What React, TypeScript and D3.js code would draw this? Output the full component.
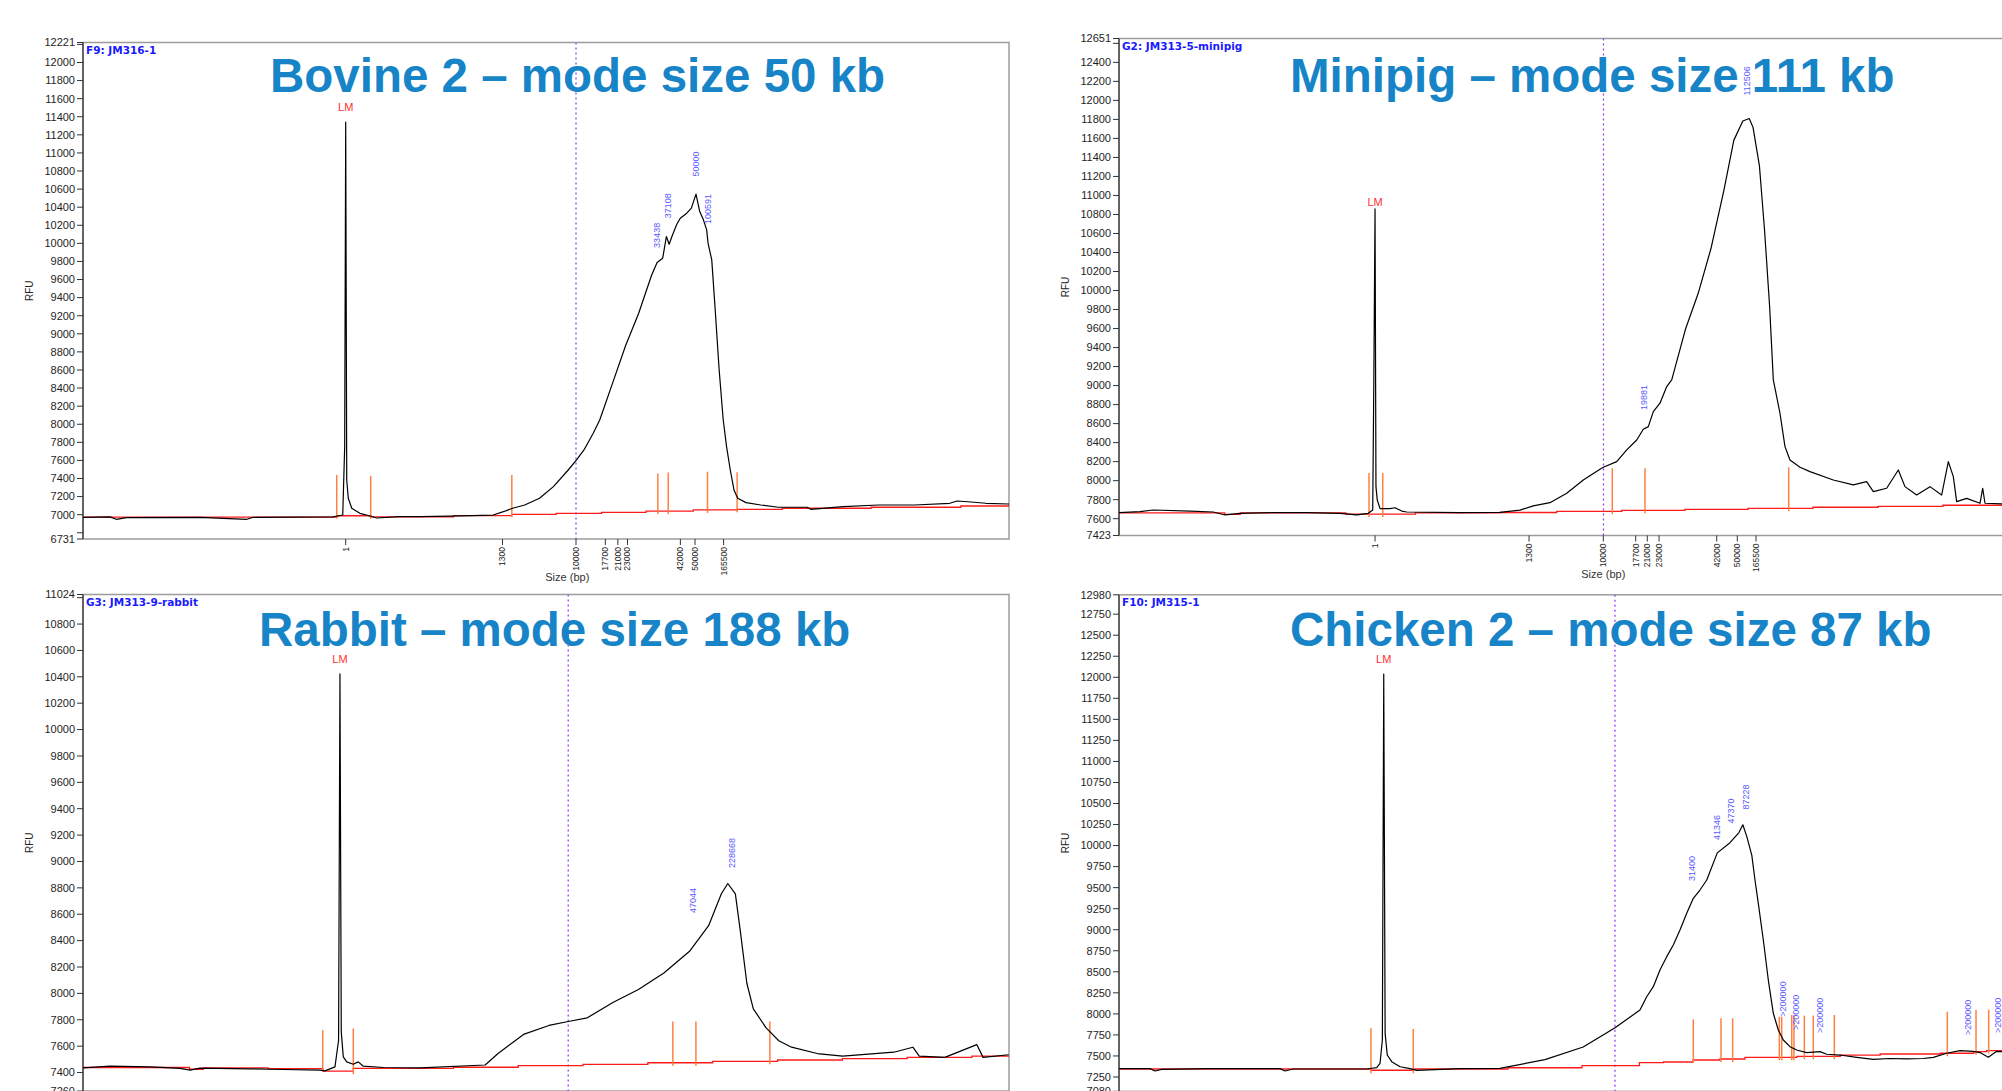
import React from "react";
import * as d3 from "d3";

type Pt = [number, number];
type Lbl = [number, number, string];
type Tick = [number, string];

// x values are scan positions (0..1000 across each plot), y values are RFU

// ---- Bovine 2 (F9: JM316-1)
const bovineTrace: Pt[] = [
  [0, 6971], [29, 6975], [36, 6949], [47, 6967], [126, 6971], [177, 6949], [184, 6971], [270, 6975],
  [280.5, 6996], [282.6, 7752], [283.7, 11340], [284.8, 7384], [286.5, 7181], [290.2, 7071], [299, 7015],
  [310, 6985], [317, 6963], [342, 6978], [364, 6978], [396, 6985], [443, 6996], [454, 7033], [464, 7071],
  [477, 7107], [493, 7181], [508, 7310], [524, 7494], [533, 7605], [541, 7716], [551, 7900], [558, 8047],
  [572, 8457], [586, 8870], [600, 9225], [614, 9647], [620, 9788], [626, 9836], [630, 10075], [633, 9990],
  [636, 10075], [641, 10205], [645, 10278], [652, 10334], [657, 10389], [662, 10544], [666, 10352],
  [670, 10260], [673.5, 10149], [675, 10002], [679, 9817], [682.5, 9300], [687, 8600], [691.4, 8047],
  [695, 7752], [699, 7494], [703, 7273], [707, 7181], [716, 7133], [732, 7107], [751, 7082], [782, 7082],
  [786, 7059], [821, 7088], [859, 7107], [898, 7107], [936, 7126], [944, 7151], [959, 7140], [975, 7126],
  [1000, 7118],
];
const bovineBaseline: Pt[] = [
  [0, 6972], [274, 6988], [311, 6975], [400, 6990], [463, 7004], [511, 7015], [560, 7026], [608, 7040],
  [659, 7052], [706, 7059], [755, 7071], [851, 7082], [948, 7096], [1000, 7110],
];
const bovineMarkers: Pt[] = [
  [274, 7440], [310.7, 7430], [463.1, 7440], [620.8, 7455], [632, 7465], [674.4, 7475], [706.4, 7470],
];
const bovinePeaks: Lbl[] = [
  [620.2, 9950, "33438"], [632, 10278, "37108"], [662, 10739, "50000"], [674.4, 10215, "100591"],
];
const bovineSizes: Tick[] = [
  [283.7, "1"], [453, "1300"], [532.4, "10000"], [564.1, "17700"], [577.6, "21000"], [588, "23000"],
  [645.1, "42000"], [660.9, "50000"], [691.8, "165500"],
];

// ---- Minipig (G2: JM313-5-minipig)
const minipigTrace: Pt[] = [
  [0, 7663], [22.7, 7674], [37, 7691], [76.7, 7680], [101.8, 7670], [114.5, 7639], [130.7, 7656],
  [166.6, 7663], [202.7, 7663], [238.7, 7656], [256.7, 7639], [269.2, 7656], [274, 7691], [275.2, 9060],
  [276.5, 10860], [277.5, 7937], [278.9, 7797], [281.9, 7705], [292.6, 7705], [298.1, 7715], [305.3, 7680],
  [310.7, 7670], [368.3, 7663], [411.4, 7667], [433, 7690], [447.4, 7734], [465.4, 7768], [483.5, 7867],
  [501.4, 8007], [519.4, 8120], [523, 8141], [537.5, 8200], [548.3, 8323], [559.1, 8428], [566.2, 8541],
  [571.6, 8568], [577, 8726], [584.2, 8815], [591.5, 8990], [596.9, 9060], [611.7, 9592], [625.4, 9968],
  [639.2, 10439], [653, 11044], [664, 11582], [673.7, 11783], [680.6, 11810], [684.7, 11716],
  [691.6, 11312], [697.1, 10641], [702.6, 9835], [706.6, 9060], [713.8, 8709], [719.2, 8358],
  [724.6, 8218], [735.4, 8141], [746.2, 8095], [771.4, 8007], [793, 7955], [807.4, 7989], [814.6, 7884],
  [829, 7920], [841.6, 8112], [848.8, 7937], [861.4, 7849], [875.8, 7937], [888.4, 7849], [895.6, 8200],
  [901, 8042], [904.6, 7779], [915.4, 7814], [929.8, 7762], [932.7, 7920], [935.2, 7762], [953.6, 7755],
  [1000, 7750],
];
const minipigBaseline: Pt[] = [
  [0, 7662], [114, 7645], [131, 7660], [245, 7648], [320, 7660], [411, 7665], [472.7, 7677],
  [542.9, 7688], [611.2, 7698], [679.3, 7709], [749.5, 7720], [819.7, 7730], [889.8, 7741], [1000, 7752],
];
const minipigMarkers: Pt[] = [[270, 8080], [284.8, 8080], [532.7, 8130], [568, 8130], [723.2, 8140]];
const minipigPeaks: Lbl[] = [[567, 8744, "19881"], [677.9, 12051, "112506"]];
const minipigSizes: Tick[] = [
  [276.5, "1"], [442.8, "1300"], [523, "10000"], [558, "17700"], [570.5, "21000"], [583.2, "23000"],
  [645.5, "42000"], [667.7, "50000"], [687.9, "165500"],
];

// ---- Rabbit (G3: JM313-9-rabbit)
const rabbitTrace: Pt[] = [
  [0, 7435], [29.2, 7448], [72.4, 7443], [104.8, 7431], [115.6, 7418], [126.3, 7433], [180.3, 7428],
  [216.3, 7423], [255.9, 7418], [261.3, 7413], [272.1, 7443], [276, 7645], [277.5, 10422], [278.9, 7708],
  [281.1, 7519], [284.8, 7481], [291.9, 7463], [297.3, 7481], [302.7, 7448], [324.3, 7438], [363.9, 7435],
  [434.3, 7457], [448.2, 7544], [475.7, 7689], [503.2, 7757], [524, 7787], [544.6, 7815], [572.2, 7931],
  [599.8, 8029], [627.3, 8155], [655, 8319], [675.6, 8513], [689.4, 8755], [696.3, 8833], [704.5, 8755],
  [710, 8464], [716.9, 8077], [723.9, 7883], [737.7, 7738], [751.4, 7641], [765.2, 7592], [792.9, 7544],
  [820.4, 7525], [875.6, 7554], [896.2, 7592], [903.1, 7525], [930.7, 7515], [965.2, 7612], [972, 7515],
  [999.7, 7535],
];
const rabbitBaseline: Pt[] = [
  [0, 7438], [115, 7425], [130, 7436], [200, 7430], [259, 7410], [292, 7432], [400, 7440], [470, 7452],
  [540, 7462], [610, 7474], [680, 7485], [750, 7495], [820, 7505], [890, 7515], [960, 7525], [1000, 7530],
];
const rabbitMarkers: Pt[] = [[258.9, 7721], [291.9, 7734], [637, 7787], [661.9, 7787], [741.8, 7787]];
const rabbitPeaks: Lbl[] = [[659.1, 8609, "47044"], [700.4, 8950, "228668"]];

// ---- Chicken 2 (F10: JM315-1)
const chickenTrace: Pt[] = [
  [0, 7349], [33.5, 7349], [38.9, 7321], [46.1, 7341], [94.7, 7349], [173.9, 7349], [179.3, 7321],
  [188.2, 7345], [267.5, 7345], [278.3, 7361], [281.9, 7413], [284.4, 7690], [285.9, 12039], [287.4, 7769],
  [289.7, 7511], [294.5, 7432], [303.5, 7372], [314.3, 7349], [321.5, 7329], [368.3, 7349], [411.4, 7352],
  [460, 7456], [501.3, 7607], [535.7, 7835], [562.6, 8046], [569.9, 8204], [577, 8323], [584.2, 8521],
  [591.5, 8680], [598.6, 8819], [605.8, 8997], [613.1, 9195], [620.2, 9374], [627.4, 9472], [634.7, 9591],
  [646.1, 9913], [659.8, 10034], [669.5, 10155], [673.7, 10247], [677.9, 10110], [683.4, 9883],
  [686.8, 9591], [690.4, 9314], [695.8, 8878], [701.2, 8402], [706.6, 8007], [712, 7808], [717.4, 7690],
  [724.6, 7610], [731.9, 7571], [742.7, 7539], [757, 7551], [764.3, 7520], [778.6, 7511], [796.7, 7484],
  [814.6, 7460], [832.6, 7470], [850.6, 7465], [868.6, 7470], [879.4, 7484], [893.8, 7532], [908.2, 7563],
  [922.6, 7555], [929.8, 7540], [938.8, 7484], [947.8, 7555], [953.6, 7551], [1000, 7550],
];
const chickenBaseline: Pt[] = [
  [0, 7345], [272, 7330], [318, 7345], [420, 7360], [500, 7385], [562, 7420], [588, 7428], [620, 7452],
  [649, 7464], [676, 7484], [732, 7496], [779, 7511], [822, 7523], [887, 7532], [923, 7551], [937, 7563],
  [1000, 7570],
];
const chickenMarkers: Pt[] = [
  [272.1, 7829], [317.8, 7821], [620.2, 7936], [650.1, 7947], [662.7, 7947], [713.1, 7967], [715.7, 7967],
  [726.5, 7987], [728.9, 7987], [740.1, 7980], [749.8, 7980], [772.5, 7987], [894.5, 8026], [925.5, 8046],
  [939.2, 8050],
];
const chickenPeaks: Lbl[] = [
  [618.6, 9579, "31400"], [646.1, 10066, "41346"], [661.2, 10262, "47370"], [676.5, 10429, "87228"],
  [716.7, 7967, ">200000"], [731.1, 7808, ">200000"], [757, 7773, ">200000"], [917.2, 7749, ">200000"],
  [949.6, 7773, ">200000"],
];

type Panel = {
  id: string;
  name: string;
  title: string;
  titleX: number;
  titleY: number;
  left: number;
  top: number;
  bottom: number;
  yMin: number;
  yMax: number;
  step: number;
  trace: Pt[];
  baseline: Pt[];
  markers: Pt[];
  peaks: Lbl[];
  sizes?: Tick[];
  lm: { t: number; label: number };
  split: number;
};

const PLOT_W = 926;

const panels: Panel[] = [
  {
    id: "bovine", name: "F9: JM316-1", title: "Bovine 2 – mode size 50 kb", titleX: 270, titleY: 92,
    left: 83, top: 42.5, bottom: 539, yMin: 6731, yMax: 12221, step: 200,
    trace: bovineTrace, baseline: bovineBaseline, markers: bovineMarkers, peaks: bovinePeaks,
    sizes: bovineSizes, lm: { t: 283.7, label: 11465 }, split: 532.4,
  },
  {
    id: "minipig", name: "G2: JM313-5-minipig", title: "Minipig – mode size 111 kb", titleX: 1290, titleY: 92,
    left: 1119, top: 38.5, bottom: 535.5, yMin: 7423, yMax: 12651, step: 200,
    trace: minipigTrace, baseline: minipigBaseline, markers: minipigMarkers, peaks: minipigPeaks,
    sizes: minipigSizes, lm: { t: 276.5, label: 10886 }, split: 523.2,
  },
  {
    id: "rabbit", name: "G3: JM313-9-rabbit", title: "Rabbit – mode size 188 kb", titleX: 259, titleY: 646,
    left: 83, top: 594.5, bottom: 1091, yMin: 7260, yMax: 11024, step: 200,
    trace: rabbitTrace, baseline: rabbitBaseline, markers: rabbitMarkers, peaks: rabbitPeaks,
    lm: { t: 277.5, label: 10508 }, split: 524,
  },
  {
    id: "chicken", name: "F10: JM315-1", title: "Chicken 2 – mode size 87 kb", titleX: 1290, titleY: 646,
    left: 1119, top: 594.8, bottom: 1091.3, yMin: 7080, yMax: 12980, step: 250,
    trace: chickenTrace, baseline: chickenBaseline, markers: chickenMarkers, peaks: chickenPeaks,
    lm: { t: 285.9, label: 12166 }, split: 535.6,
  },
];

const axisFont = "'Liberation Sans', Arial, sans-serif";

function Electropherogram({ p }: { p: Panel }) {
  const x = d3.scaleLinear().domain([0, 1000]).range([p.left, p.left + PLOT_W]);
  const y = d3.scaleLinear().domain([p.yMin, p.yMax]).range([p.bottom, p.top]);

  const line = d3.line<Pt>().x((d) => x(d[0])).y((d) => y(d[1]));
  const stepLine = d3
    .line<Pt>()
    .x((d) => x(d[0]))
    .y((d) => y(d[1]))
    .curve(d3.curveStepAfter);

  // baseline value at a scan position (for the marker feet)
  const bis = d3.bisector((d: Pt) => d[0]).right;
  const baseAt = (t: number) => p.baseline[Math.max(0, bis(p.baseline, t) - 1)][1];

  const ticks = d3
    .range(Math.ceil(p.yMin / p.step) * p.step, p.yMax, p.step)
    .filter((v) => v > p.yMin);
  const showLabel = (v: number) =>
    Math.abs(y(v) - y(p.yMax)) > 10 && Math.abs(y(v) - y(p.yMin)) > 10;

  const clipId = `clip-${p.id}`;

  return (
    <g>
      <defs>
        <clipPath id={clipId}>
          <rect x={p.left} y={p.top} width={PLOT_W} height={p.bottom - p.top} />
        </clipPath>
      </defs>

      {/* frame */}
      <rect
        x={p.left}
        y={p.top}
        width={PLOT_W}
        height={p.bottom - p.top}
        fill="#fff"
        stroke="#9c9c9c"
        strokeWidth={1.5}
      />
      <line x1={p.left} x2={p.left} y1={p.top} y2={p.bottom} stroke="#4a4a4a" strokeWidth={1.5} />

      {/* y axis */}
      {[p.yMax, ...ticks, p.yMin].map((v, i) => (
        <g key={i}>
          <line x1={p.left - 6} x2={p.left} y1={y(v)} y2={y(v)} stroke="#333" strokeWidth={1} />
          {(v === p.yMax || v === p.yMin || showLabel(v)) && (
            <text
              x={p.left - 8}
              y={y(v)}
              dy="0.35em"
              textAnchor="end"
              fontFamily={axisFont}
              fontSize={11}
              fill="#1e1e1e"
            >
              {v}
            </text>
          )}
        </g>
      ))}
      <text
        transform={`translate(${p.left - 50},${(p.top + p.bottom) / 2}) rotate(-90)`}
        textAnchor="middle"
        fontFamily={axisFont}
        fontSize={10}
        fill="#222"
      >
        RFU
      </text>

      {/* size axis (bp) */}
      {p.sizes && (
        <g>
          {p.sizes.map(([t, s]) => (
            <g key={s}>
              <line x1={x(t)} x2={x(t)} y1={p.bottom} y2={p.bottom + 6} stroke="#333" strokeWidth={1} />
              <text
                transform={`translate(${x(t)},${p.bottom + 8}) rotate(-90)`}
                dy="0.35em"
                textAnchor="end"
                fontFamily={axisFont}
                fontSize={8.5}
                fill="#222"
              >
                {s}
              </text>
            </g>
          ))}
          <text
            x={x(523)}
            y={p.bottom + 42}
            textAnchor="middle"
            fontFamily={axisFont}
            fontSize={11}
            fill="#333"
          >
            Size (bp)
          </text>
        </g>
      )}

      <g clipPath={`url(#${clipId})`}>
        {/* 10 kb split line */}
        <line
          x1={x(p.split)}
          x2={x(p.split)}
          y1={p.top}
          y2={p.bottom}
          stroke="#8e44f0"
          strokeWidth={1.3}
          strokeDasharray="2,3"
        />
        {/* baseline */}
        <path d={stepLine(p.baseline) || ""} fill="none" stroke="#ff1a1a" strokeWidth={1.3} />
        {/* peak / region markers */}
        {p.markers.map(([t, v], i) => (
          <line
            key={i}
            x1={x(t)}
            x2={x(t)}
            y1={y(v)}
            y2={y(baseAt(t)) + 3}
            stroke="#ff8040"
            strokeWidth={1.5}
          />
        ))}
        {/* trace */}
        <path d={line(p.trace) || ""} fill="none" stroke="#000" strokeWidth={1.2} strokeLinejoin="round" />
      </g>

      {/* peak labels */}
      {p.peaks.map(([t, v, s], i) => (
        <text
          key={i}
          transform={`translate(${x(t)},${y(v)}) rotate(-90)`}
          dy="0.35em"
          fontFamily={axisFont}
          fontSize={9}
          fill="#5a5aff"
        >
          {s}
        </text>
      ))}

      <text
        x={x(p.lm.t)}
        y={y(p.lm.label)}
        textAnchor="middle"
        fontFamily={axisFont}
        fontSize={11}
        fill="#ff3030"
      >
        LM
      </text>

      <text
        x={p.left + 3}
        y={p.top + 11}
        fontFamily="'DejaVu Sans', Verdana, sans-serif"
        fontWeight="bold"
        fontSize={10.5}
        fill="#1a1aff"
      >
        {p.name}
      </text>

      <text
        x={p.titleX}
        y={p.titleY}
        fontFamily={axisFont}
        fontWeight="bold"
        fontSize={47.5}
        fill="#1684c7"
      >
        {p.title}
      </text>
    </g>
  );
}

export default function App() {
  document.body.style.margin = "0";
  document.body.style.overflow = "hidden";
  return (
    <svg
      width={2002}
      height={1091}
      viewBox="0 0 2002 1091"
      style={{ position: "absolute", left: 0, top: 0, display: "block", background: "#fff" }}
    >
      {panels.map((p) => (
        <Electropherogram key={p.id} p={p} />
      ))}
    </svg>
  );
}
